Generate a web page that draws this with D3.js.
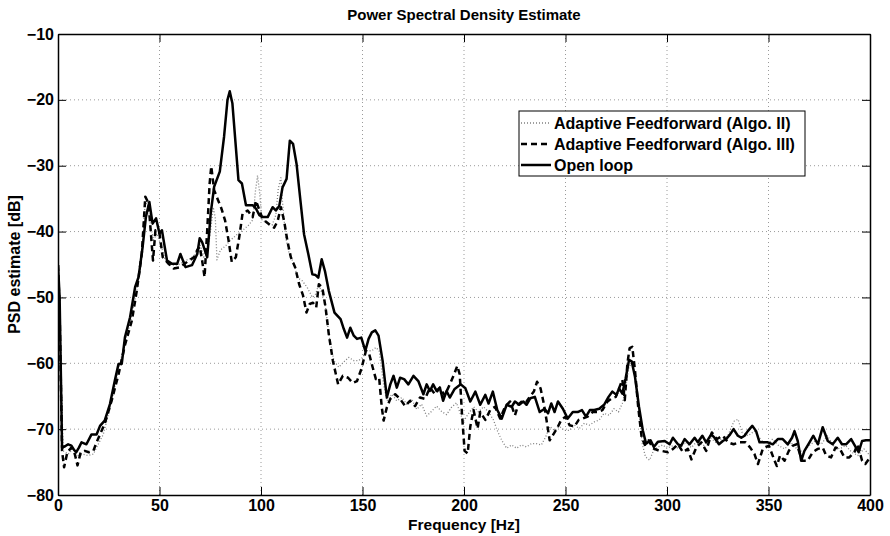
<!DOCTYPE html>
<html>
<head>
<meta charset="utf-8">
<script src="https://cdn.jsdelivr.net/npm/d3@7"></script>
<style>
  html, body { margin: 0; padding: 0; background: #fff; }
  svg { display: block; }
  text { font-family: "Liberation Sans", Arial, Helvetica, sans-serif; font-weight: bold; fill: #000; }
</style>
</head>
<body>
<svg id="chart" width="890" height="536"></svg>
<script>
// ---------------- data ----------------
const xTicks = [0, 50, 100, 150, 200, 250, 300, 350, 400];
const yTicks = [-80, -70, -60, -50, -40, -30, -20, -10];
const seriesNames = ["Adaptive Feedforward (Algo. II)", "Adaptive Feedforward (Algo. III)", "Open loop"];

// Open loop
const olFreq = [0,0.8,2,3.5,5,6.6,8,9,10.3,11.6,14,16.5,19,20.7,23,25.6,28,29.8,31.4,33,35.5,38,39.7,41.7,43.3,45,46.6,48.3,50,51.2,53.7,56.2,58.7,60.3,62.8,66,68.6,69.8,71,73.5,75.2,76.9,79.7,81.8,83.5,84.6,85.9,88.9,90.6,92.6,95.9,97.5,99.2,100.8,103.3,105.7,107.3,109,110.6,112.6,114.2,115.8,117.5,119.6,121.2,123.3,125.3,126.9,128.2,129.9,131.5,133.4,136.2,139.2,140.8,142.4,144,145.7,147.3,149.4,151.4,153,154.6,156.3,157.9,159.9,162,163.7,165.3,166.9,168.5,170.5,172.6,175.1,177.5,180,181.6,183.2,184.8,186.5,188.1,189.7,191.4,193,195.4,198.4,200.7,203.1,205.6,208,210.5,212.1,214.2,216.4,218.6,221,223.5,225.1,227.2,229.2,230.8,232.7,234.9,237.3,239.7,241.4,243,244.6,246.3,248.7,251.1,253.6,256,258.1,260.1,262,264.2,266.6,269,271.2,273.1,275.1,276.4,278,279.6,281.3,282.6,284.2,286.2,288.1,289.7,291.9,293.5,295.6,298.9,301.3,302.9,305.4,307,308.7,311.1,313.6,315.2,317.4,319.3,321.8,323.4,325.6,327.5,329.2,331.1,332.8,334.9,336.6,338.2,339.8,342,343.9,345.6,347.5,349.7,352.1,354.6,357,359.5,361.6,362.8,364.4,366.1,367.7,370.2,372.1,374.3,376.7,379.2,381.6,384.1,386.2,388.2,390.7,393.1,394.4,396.1,398,400];
const olPsd = [-45.1,-50,-72.8,-72.6,-72.3,-72.5,-73.2,-73.5,-72.8,-72,-72.3,-70.8,-70.8,-69.5,-68.7,-66.2,-62.6,-60.1,-60.1,-56,-53,-48.4,-46.9,-42.3,-37.8,-35.5,-38.8,-38,-40.3,-39.8,-44.4,-44.9,-44.9,-43.4,-45.4,-45.1,-43.4,-41,-41.6,-43.9,-37.3,-33.2,-30.9,-25.6,-20,-18.7,-20.5,-32.2,-32.7,-36,-36,-36.5,-37.5,-37.8,-37.8,-36.3,-36.8,-36.1,-33.3,-32,-26.2,-26.7,-29.7,-35.8,-40.4,-43.4,-46.5,-46.6,-47,-44.2,-46,-49,-52.3,-53.3,-54.8,-56.1,-54.6,-55.8,-56.3,-56.1,-58.1,-56.3,-55.3,-55,-55.8,-59.6,-65.2,-63.2,-61.9,-63.7,-62.2,-62.4,-63.2,-61.9,-62.7,-64.7,-63.2,-64.2,-63.2,-64.2,-63.7,-65.7,-64.2,-65.2,-63.9,-63.2,-63.8,-65.8,-64.3,-66.3,-64.8,-66.1,-64.3,-67.1,-68.4,-66.3,-66.6,-65.8,-66.3,-65.8,-66.3,-65.3,-65.1,-67.4,-66.9,-67.6,-66.1,-67.4,-65.8,-66.9,-68.4,-67.4,-67.4,-67.1,-68.1,-67.1,-67.1,-66.9,-66.3,-65.1,-64.3,-64.8,-63.8,-64.6,-62.3,-59.5,-59.7,-62,-66.6,-70.2,-72.2,-71.7,-72.7,-71.9,-71.8,-72.3,-71.3,-72.3,-72.5,-71.5,-72.3,-71.3,-72,-71,-72,-70.8,-71.3,-72.3,-71.8,-71.5,-70.8,-70,-71,-71.3,-71,-70.3,-69.5,-70.3,-72,-72,-72,-72.3,-71.5,-71.5,-72.3,-71.3,-70.3,-71.8,-74.8,-73.3,-72,-71,-72.3,-69.7,-71.8,-72.3,-71.3,-72.3,-72.3,-71.5,-72.8,-73.5,-71.8,-71.7,-71.7];

// Adaptive Feedforward (Algo. III)
const a3Freq = [0,0.8,2,3,4.6,6.6,8.3,9.6,11.2,13.2,15.2,17.4,19,20.7,23,26.4,29.8,33,36.4,38.8,41.3,43,44.6,46.8,48,50,51.6,54.5,57,60.3,63.6,67,68.6,69.8,71,72.2,73.5,74.7,75.5,76.9,78.8,80.5,82.3,84,85.6,87.6,89.3,90.9,93.4,95.9,97.5,100.8,104,106.5,108.2,109.8,111.4,113,114.7,116.8,118.8,120.7,122.4,124,125.6,127.2,128.5,130.2,131.8,133.4,135.4,138,140.3,142.9,145.2,147.3,149.4,151.7,153.3,155,156.6,158.2,159.5,160.4,162,163.7,166.1,168.5,171,173.4,175.9,178.3,180.8,183.2,185.7,188.1,190.5,193,195.1,196.7,197.9,199,200.3,201.8,203.1,204.7,206.7,208,210.5,212.9,215.3,217.8,220.2,222.7,225.1,226.7,229.2,230.8,232.4,234.4,236,237.7,239.3,240.9,242.2,243.8,245.8,247.9,250,252,254.4,256.5,258.5,260.9,263.4,265.8,268.2,270.7,272.8,274.8,276.4,278,279.2,280.5,281.6,282.9,284.2,285.8,287.5,289.1,291,293,295.6,297.2,300.5,303,305.4,307.9,310.3,312,314.4,316.9,319.3,322.1,324.6,327.5,330,332.8,335.7,338.7,341,343.1,344.8,347.2,350.2,353,354.1,355.7,357.9,360,362,363.9,366.6,369.3,371.8,374.3,376.7,378.4,380.8,383,385.2,387.4,389.8,392.3,393.9,396.1,397.7,400];
const a3Psd = [-45.1,-52,-73.3,-75.8,-73.5,-72.8,-73.8,-75.5,-73.5,-73.3,-73.5,-73.3,-72,-70.8,-69.2,-65.7,-61.7,-57.2,-53.5,-49,-43.3,-34.7,-35.7,-44.4,-39.8,-40.3,-43.9,-44.9,-45.6,-45.4,-44.6,-43.9,-42.8,-42.3,-44.4,-46.9,-39.8,-32.7,-30.1,-33.7,-35.2,-36.5,-38.3,-41.3,-44.6,-43.9,-40.8,-37.3,-36.8,-37.8,-35.3,-38.1,-38.9,-39.4,-38.4,-36.3,-38.4,-41.4,-43.9,-45.4,-48,-49.7,-52.3,-51,-50.8,-51.5,-48,-48.5,-51.5,-55.6,-59.6,-63.2,-61.9,-62.2,-63,-62.7,-60.9,-58.1,-58.6,-60.6,-62.4,-62.2,-66.7,-68.7,-66.7,-65.4,-64.7,-65.4,-66.5,-65.7,-66.5,-65.2,-65.4,-63.7,-64.7,-63.7,-64.9,-63.2,-61.7,-60.4,-61.7,-67.7,-73.3,-73.7,-69.6,-67.1,-69.9,-67.4,-68.6,-67.1,-66.6,-68.4,-66.6,-65.8,-67.9,-66.3,-65.6,-65.8,-65.1,-64.3,-62.8,-63.8,-66.1,-69.1,-71.7,-70.9,-69.9,-68.6,-68.1,-69.4,-69.6,-68.6,-68.4,-68.1,-67.4,-67.4,-67.1,-65.8,-65.3,-65.1,-63.8,-62.5,-65.6,-60,-57.7,-57.5,-61,-66.6,-71.2,-72.4,-71.7,-72.9,-73.2,-73.3,-73.5,-73,-72.3,-73.5,-73,-74.6,-72.8,-72,-73.3,-70.5,-71.5,-71,-72,-72.3,-72,-72,-72.8,-73.8,-75.3,-73,-72.5,-74.8,-75.6,-74,-74.8,-73.3,-72.5,-72.3,-74.8,-74.8,-73.5,-73,-72.8,-74,-74.3,-72.8,-73,-74.3,-74.3,-73.5,-72.3,-74.8,-75.3,-74.3];

// Adaptive Feedforward (Algo. II)
const a2Freq = [0,0.8,2.5,5,7.4,9.9,12.4,14.9,17.4,19.8,22.3,25.6,28.9,32.2,35.5,38.8,41.3,42.6,44,45.5,47,48.8,50.9,52.9,55.4,57.9,60.3,62.8,65.3,67.8,69.8,71.9,73.5,75.2,76.5,77.5,78.3,80,82.5,85,88,91,94,96,97.2,98.3,99.3,100.5,103,105.5,107.3,108.5,109.8,110.6,112.2,113.9,116.3,118,120.4,122.8,125.3,126.9,128.5,130.2,131.8,133.4,135.9,138.3,140.8,143.2,145.7,148.1,150.1,152.2,154.6,156.6,158.2,160.4,162,164.5,166.9,169.4,171.8,174.2,176.7,179.1,181.6,184,186.5,188.9,191.4,193.8,196.3,198.4,199.8,202.3,204.7,207.2,209.6,212.1,214.5,216.4,218.6,221,223.5,225.9,228.3,230.8,233.2,235.7,238.1,240.2,242.2,244.6,247.1,249.5,252,254.4,256.8,259.3,261.7,264.2,266.6,269,271.5,273.9,276.1,278,279.6,281.3,282.9,284.5,286.2,287.8,289.4,291.4,293.5,295.6,297.9,300,303,306,309,312,315,318,321,324,327,330,333,335,337,340,343,346,349,352,355,358,361,364,367,370,373,376,379,382,385,388,391,394,397,400];
const a2Psd = [-45.1,-52,-73.3,-73.8,-73,-74,-73.8,-74,-73.8,-72.3,-70.8,-66.8,-62.3,-57.7,-54,-49,-43.9,-36.8,-35.2,-38.8,-41.3,-40.3,-42.3,-44.4,-45.1,-45.1,-44.9,-44.4,-44.1,-43.4,-41.8,-43.9,-43.4,-39.8,-36.3,-38,-44.3,-42.8,-42.2,-41.3,-40.5,-39.8,-39,-38.2,-34,-31.5,-34,-38.3,-38.6,-39,-37.5,-33.5,-31.8,-35.5,-40.9,-43.4,-44.9,-47,-47.5,-48.5,-50,-49.5,-48,-49.5,-51.5,-55.6,-59.6,-60.6,-59.8,-59.1,-59.6,-59.6,-59.1,-58.1,-58.1,-57.6,-58.1,-63.2,-65.7,-64.7,-65.7,-65.2,-66.2,-65.4,-67,-66.2,-68,-67.3,-66.5,-67.3,-67.8,-66.7,-66,-67.8,-68.8,-67.6,-66.6,-67.4,-66.6,-67.4,-68.6,-70.2,-71.7,-72.9,-72.4,-72.9,-72.4,-72.7,-72.2,-72.2,-72.4,-71.2,-69.6,-70.2,-69.6,-70.2,-70.2,-69.4,-69.9,-69.1,-69.4,-68.9,-68.6,-67.6,-67.9,-66.9,-67.4,-66.1,-63.8,-60.5,-60,-62.5,-67.6,-72.2,-74.2,-74.7,-73.2,-72.7,-72.4,-72.9,-72.5,-73,-72,-72.8,-71.8,-72.5,-71.2,-72,-71.5,-71,-68.8,-68.5,-70.5,-71,-70.3,-71.5,-72.5,-71.5,-72.5,-73,-72,-73,-73.5,-72.5,-71.8,-72.3,-71,-72.5,-73,-72.5,-73.5,-74,-73,-74];

// ---------------- chart ----------------
const svg = d3.select("#chart");
const L = 58, R = 870, T = 34, B = 495;
const x = d3.scaleLinear().domain([0, 400]).range([L, R]);
const y = d3.scaleLinear().domain([-80, -10]).range([B, T]);
const fmt = d => (d < 0 ? "\u2212" + Math.abs(d) : String(d));

// grid
const grid = svg.append("g");
grid.selectAll("line.gx").data(xTicks.slice(1, -1)).join("line")
  .attr("x1", d => x(d)).attr("x2", d => x(d)).attr("y1", T).attr("y2", B)
  .attr("stroke", "#9a9a9a").attr("stroke-width", 1).attr("stroke-dasharray", "1,3");
grid.selectAll("line.gy").data(yTicks.slice(1, -1)).join("line")
  .attr("x1", L).attr("x2", R).attr("y1", d => y(d)).attr("y2", d => y(d))
  .attr("stroke", "#9a9a9a").attr("stroke-width", 1).attr("stroke-dasharray", "1,3");

// clip
svg.append("defs").append("clipPath").attr("id", "clip")
  .append("rect").attr("x", L).attr("y", T).attr("width", R - L).attr("height", B - T);

const line = d3.line().x(d => x(d[0])).y(d => y(d[1]));
const zip = (f, v) => f.map((d, i) => [d, v[i]]);
const styles = [
  { data: zip(a2Freq, a2Psd), stroke: "#808080", width: 1.3, dash: "1,2" },
  { data: zip(a3Freq, a3Psd), stroke: "#000", width: 2.5, dash: "6,4" },
  { data: zip(olFreq, olPsd), stroke: "#000", width: 2.5, dash: null }
];
const plot = svg.append("g").attr("clip-path", "url(#clip)");
styles.forEach(s => {
  plot.append("path").datum(s.data).attr("d", line)
    .attr("fill", "none").attr("stroke", s.stroke).attr("stroke-width", s.width)
    .attr("stroke-dasharray", s.dash).attr("stroke-linejoin", "round");
});

// axes (MATLAB style: ticks inward on all four sides)
const axStyle = g => {
  g.selectAll("path.domain").attr("stroke", "#000").attr("stroke-width", 1.5);
  g.selectAll(".tick line").attr("stroke", "#000").attr("stroke-width", 1);
  g.selectAll("text").attr("font-size", 16).attr("font-weight", "bold")
    .attr("font-family", "'Liberation Sans', Arial, Helvetica, sans-serif").attr("fill", "#000");
};
svg.append("g").attr("transform", `translate(0,${B})`)
  .call(d3.axisBottom(x).tickValues(xTicks).tickFormat(fmt).tickSizeInner(-8).tickSizeOuter(0).tickPadding(5))
  .call(axStyle);
svg.append("g").attr("transform", `translate(0,${T})`)
  .call(d3.axisTop(x).tickValues(xTicks).tickFormat("").tickSizeInner(-8).tickSizeOuter(0))
  .call(axStyle);
svg.append("g").attr("transform", `translate(${L},0)`)
  .call(d3.axisLeft(y).tickValues(yTicks).tickFormat(fmt).tickSizeInner(-8).tickSizeOuter(0).tickPadding(4))
  .call(axStyle);
svg.append("g").attr("transform", `translate(${R},0)`)
  .call(d3.axisRight(y).tickValues(yTicks).tickFormat("").tickSizeInner(-8).tickSizeOuter(0))
  .call(axStyle);

// titles
svg.append("text").attr("x", (L + R) / 2).attr("y", 20).attr("text-anchor", "middle")
  .attr("font-size", 15).text("Power Spectral Density Estimate");
svg.append("text").attr("x", (L + R) / 2).attr("y", 530).attr("text-anchor", "middle")
  .attr("font-size", 15.5).text("Frequency [Hz]");
svg.append("text").attr("transform", `translate(20,${(T + B) / 2}) rotate(-90)`).attr("text-anchor", "middle")
  .attr("font-size", 16).text("PSD estimate [dB]");

// legend
const lg = svg.append("g");
lg.append("rect").attr("x", 519).attr("y", 111).attr("width", 286).attr("height", 65)
  .attr("fill", "#fff").attr("stroke", "#000").attr("stroke-width", 1);
seriesNames.forEach((name, i) => {
  const cy = 123 + i * 21;
  const s = styles[i];
  lg.append("line").attr("x1", 521).attr("x2", 551).attr("y1", cy).attr("y2", cy)
    .attr("stroke", s.stroke).attr("stroke-width", s.width).attr("stroke-dasharray", s.dash);
  lg.append("text").attr("x", 554).attr("y", cy + 6).attr("font-size", 16).text(name);
});
</script>
</body>
</html>
